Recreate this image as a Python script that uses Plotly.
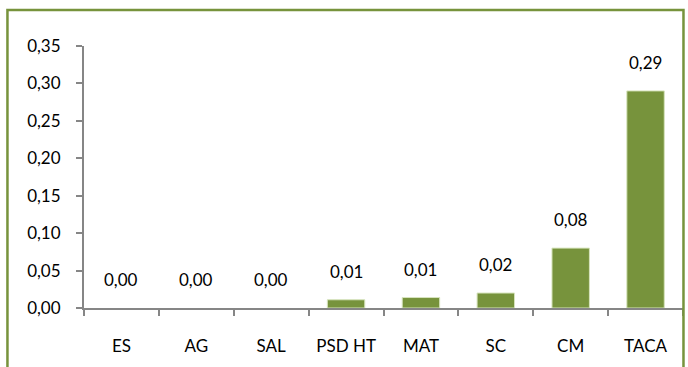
import plotly.graph_objects as go

categories = ["ES", "AG", "SAL", "PSD HT", "MAT", "SC", "CM", "TACA"]
values = [0.0, 0.0, 0.0, 0.011, 0.014, 0.02, 0.08, 0.29]
y_ticks = [0.0, 0.05, 0.10, 0.15, 0.20, 0.25, 0.30, 0.35]

BAR_GREEN = "#77933C"
AXIS_GREY = "#868686"
FONT = "Lato"

fig = go.Figure()
fig.add_trace(go.Bar(
    x=categories,
    y=values,
    width=0.5,
    marker=dict(
        color=BAR_GREEN,
        line=dict(color="#D7E4BD", width=[1 if v > 0 else 0 for v in values]),
    ),
    hoverinfo="skip",
))

# value labels above each bar
for c, v in zip(categories, values):
    fig.add_annotation(
        x=c, y=v, text=f"{v:.2f}".replace(".", ","),
        showarrow=False, yanchor="bottom", yshift=16,
        font=dict(family=FONT, size=17, color="#000000"),
    )

# outer frame of the chart
fig.add_shape(
    type="rect", xref="paper", yref="paper",
    x0=-0.1278, x1=1.0008, y0=-0.4, y1=1.137,
    line=dict(color=BAR_GREEN, width=2.5), fillcolor="rgba(0,0,0,0)",
    layer="above",
)

fig.update_layout(
    width=688, height=367,
    margin=dict(l=84, r=5, t=46, b=59),
    paper_bgcolor="white", plot_bgcolor="white",
    separators=",.",
    showlegend=False,
    font=dict(family=FONT, size=17, color="#000000"),
    xaxis=dict(
        range=[-0.5, 7.5], showline=True, linecolor=AXIS_GREY, linewidth=2,
        ticks="outside", tickson="boundaries", ticklen=6, tickcolor=AXIS_GREY,
        tickwidth=2, showgrid=False, zeroline=False, ticklabelstandoff=22,
        tickfont=dict(family=FONT, size=17, color="#000000"),
    ),
    yaxis=dict(
        range=[0, 0.35], tickvals=y_ticks, tickformat=".2f",
        showline=True, linecolor=AXIS_GREY, linewidth=2,
        ticks="outside", ticklen=6, tickcolor=AXIS_GREY, tickwidth=2,
        showgrid=False, zeroline=False, ticklabelstandoff=12,
        tickfont=dict(family=FONT, size=17, color="#000000"),
    ),
)

fig.write_html("out.html")
